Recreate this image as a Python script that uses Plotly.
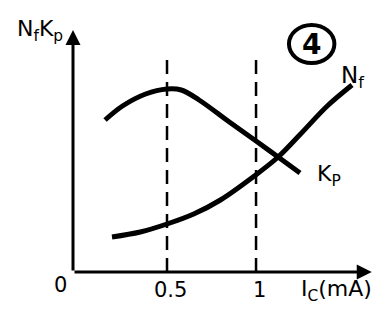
import plotly.graph_objects as go

# Data (Ic in mA, relative units)
kp_x = [0.152, 0.25, 0.38, 0.50, 0.58, 0.68, 0.85, 1.00, 1.124, 1.247]
kp_y = [1.52, 1.66, 1.78, 1.83, 1.82, 1.72, 1.50, 1.31, 1.15, 0.99]
nf_x = [0.191, 0.35, 0.50, 0.65, 0.80, 0.983, 1.124, 1.25, 1.40, 1.539]
nf_y = [0.35, 0.40, 0.48, 0.58, 0.72, 0.95, 1.15, 1.38, 1.66, 1.87]
ref_x = [0.5, 1.0]
tick_labels = ["0.5", "1"]

FONT = "DejaVu Sans"
fig = go.Figure()

fig.add_trace(go.Scatter(x=kp_x, y=kp_y, mode="lines",
                         line=dict(color="black", width=5, shape="spline", smoothing=1.0),
                         showlegend=False, hoverinfo="skip"))
fig.add_trace(go.Scatter(x=nf_x, y=nf_y, mode="lines",
                         line=dict(color="black", width=5, shape="spline", smoothing=1.0),
                         showlegend=False, hoverinfo="skip"))

# dashed reference lines
for xv in ref_x:
    fig.add_shape(type="line", x0=xv, x1=xv, y0=0, y1=2.12, xref="x", yref="y",
                  line=dict(color="black", width=2.5, dash="14px,8px"))

# axes with arrows
fig.add_annotation(x=-0.028, y=2.42, ax=-0.028, ay=0, xref="x", yref="y", axref="x", ayref="y",
                   showarrow=True, arrowhead=2, arrowsize=1, arrowwidth=3, arrowcolor="black", text="")
fig.add_annotation(x=1.65, y=0, ax=-0.028, ay=0, xref="x", yref="y", axref="x", ayref="y",
                   showarrow=True, arrowhead=2, arrowsize=1, arrowwidth=3, arrowcolor="black", text="")

# tick labels
fig.add_annotation(x=-0.10, y=-0.13, xref="x", yref="y", text="0", showarrow=False,
                   font=dict(family=FONT, size=21, color="black"))
for xv, lab in zip(ref_x, tick_labels):
    fig.add_annotation(x=xv + 0.02, y=-0.18, xref="x", yref="y", text=lab, showarrow=False,
                       font=dict(family=FONT, size=21, color="black"))
fig.add_annotation(x=1.45, y=-0.18, xref="x", yref="y", text="I<sub>C</sub>(mA)", showarrow=False,
                   font=dict(family=FONT, size=22, color="black"))

# axis title
fig.add_annotation(x=-0.215, y=2.42, xref="x", yref="y", text="N<sub>f</sub>K<sub>p</sub>", showarrow=False,
                   font=dict(family=FONT, size=22, color="black"))

# curve labels
fig.add_annotation(x=1.54, y=1.95, xref="x", yref="y", text="N<sub>f</sub>", showarrow=False,
                   font=dict(family=FONT, size=23, color="black"))
fig.add_annotation(x=1.41, y=0.97, xref="x", yref="y", text="K<sub>P</sub>", showarrow=False,
                   font=dict(family=FONT, size=22, color="black"))

# circled 4
fig.add_shape(type="circle", x0=1.185, x1=1.44, y0=2.09, y1=2.47, xref="x", yref="y",
              line=dict(color="black", width=4))
fig.add_annotation(x=1.312, y=2.28, xref="x", yref="y", text="<b>4</b>", showarrow=False,
                   font=dict(family=FONT, size=28, color="black"))

fig.update_xaxes(range=[-0.438, 1.758], visible=False)
fig.update_yaxes(range=[-0.42, 2.72], visible=False)
fig.update_layout(width=391, height=314, margin=dict(l=0, r=0, t=0, b=0),
                  plot_bgcolor="white", paper_bgcolor="white")
fig.write_html("out.html")
